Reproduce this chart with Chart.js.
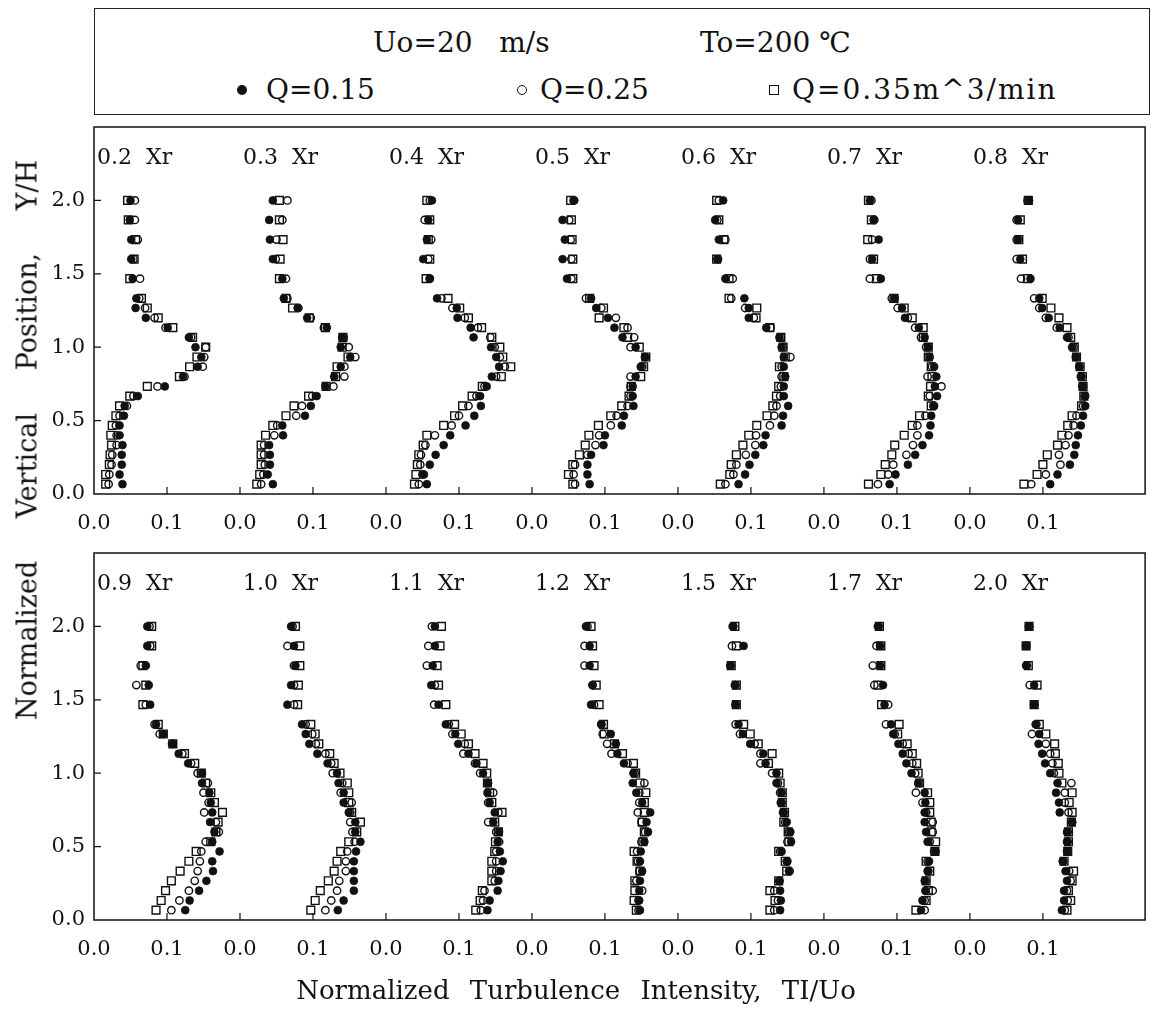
<!DOCTYPE html>
<html>
<head>
<meta charset="utf-8">
<script src="https://cdn.jsdelivr.net/npm/chart.js@4.4.1/dist/chart.umd.min.js"></script>
<style>
  body { margin: 0; width: 1152px; height: 1009px; position: relative; overflow: hidden;
         background: #fff; color: #111; font-family: "DejaVu Serif", serif; }
  canvas { position: absolute; left: 0; }
  #legendBox { position: absolute; left: 94px; top: 8px; width: 1056px; height: 107px;
               border: 1.5px solid #222; box-sizing: border-box; }
  .lg { position: absolute; font-size: 28px; line-height: 1; white-space: pre; transform: translateY(-50%); }
  .mk { position: absolute; box-sizing: border-box; transform: translate(-50%, -50%); }
  .dot { width: 10px; height: 10px; border-radius: 50%; background: #111; }
  .ring { width: 10px; height: 10px; border-radius: 50%; border: 1.3px solid #111; }
  .box { width: 10px; height: 10px; border: 1.3px solid #111; }
  #yTitle { position: absolute; left: 27px; top: 440px; font-size: 27px; white-space: nowrap; word-spacing: 34px;
            transform: translate(-50%, -50%) rotate(-90deg); }
  #xTitle { position: absolute; left: 576px; top: 990px; font-size: 26px; white-space: nowrap; word-spacing: 12px;
            transform: translate(-50%, -50%); }
</style>
</head>
<body>
<div id="legendBox"></div>
<div class="lg" style="left:373px;top:43px">Uo=20   m/s</div>
<div class="lg" style="left:700px;top:43px">To=200 ℃</div>
<div class="mk dot" style="left:242px;top:90px"></div>
<div class="lg" style="left:266px;top:90px">Q=0.15</div>
<div class="mk ring" style="left:522px;top:90px"></div>
<div class="lg" style="left:540px;top:90px">Q=0.25</div>
<div class="mk box" style="left:774px;top:90px"></div>
<div class="lg" style="left:792px;top:90px;letter-spacing:2px">Q=0.35m^3/min</div>

<canvas id="chartTop" width="1152" height="430" style="top:120px"></canvas>
<canvas id="chartBottom" width="1152" height="430" style="top:546px"></canvas>

<div id="yTitle">Normalized Vertical Position, Y/H</div>
<div id="xTitle">Normalized Turbulence Intensity, TI/Uo</div>

<script>
// Y/H measurement heights, listed top to bottom
const LEVELS = [2.0, 1.867, 1.733, 1.6, 1.467, 1.333, 1.267, 1.2, 1.133, 1.067, 1.0, 0.933, 0.867,
                0.8, 0.733, 0.667, 0.6, 0.533, 0.467, 0.4, 0.333, 0.267, 0.2, 0.133, 0.067];

const STATIONS_TOP = ["0.2", "0.3", "0.4", "0.5", "0.6", "0.7", "0.8"];
const STATIONS_BOTTOM = ["0.9", "1.0", "1.1", "1.2", "1.5", "1.7", "2.0"];

// each profile is shifted right by this much on the shared TI axis
const STATION_STEP = 0.2;
const X_TICKS = [0, 0.1, 0.2, 0.3, 0.4, 0.5, 0.6, 0.7, 0.8, 0.9, 1.0, 1.1, 1.2, 1.3];
const X_TICK_LABELS = ["0.0", "0.1", "0.0", "0.1", "0.0", "0.1", "0.0", "0.1", "0.0", "0.1", "0.0", "0.1", "0.0", "0.1"];
const Y_TICKS = [0, 0.5, 1.0, 1.5, 2.0];

// TI/Uo, Q = 0.15 m^3/min (filled circles)
const Q15_TOP = [
  [0.050, 0.049, 0.051, 0.051, 0.053, 0.058, 0.057, 0.071, 0.101, 0.130, 0.139, 0.147, 0.142, 0.122, 0.097, 0.060, 0.042, 0.041, 0.035, 0.035, 0.039, 0.038, 0.038, 0.035, 0.039],
  [0.045, 0.040, 0.041, 0.045, 0.058, 0.060, 0.079, 0.092, 0.119, 0.140, 0.138, 0.151, 0.138, 0.129, 0.117, 0.105, 0.097, 0.089, 0.058, 0.059, 0.040, 0.041, 0.041, 0.038, 0.045],
  [0.063, 0.058, 0.056, 0.051, 0.060, 0.070, 0.097, 0.098, 0.116, 0.120, 0.144, 0.151, 0.155, 0.145, 0.138, 0.129, 0.130, 0.121, 0.109, 0.088, 0.079, 0.068, 0.060, 0.052, 0.056],
  [0.058, 0.042, 0.045, 0.042, 0.048, 0.081, 0.088, 0.104, 0.113, 0.124, 0.142, 0.155, 0.149, 0.142, 0.138, 0.138, 0.139, 0.126, 0.123, 0.100, 0.098, 0.081, 0.076, 0.076, 0.079],
  [0.062, 0.051, 0.056, 0.055, 0.065, 0.091, 0.097, 0.097, 0.121, 0.139, 0.142, 0.145, 0.145, 0.147, 0.145, 0.145, 0.151, 0.144, 0.142, 0.120, 0.117, 0.106, 0.098, 0.092, 0.083],
  [0.063, 0.068, 0.075, 0.066, 0.078, 0.097, 0.107, 0.111, 0.130, 0.138, 0.143, 0.145, 0.151, 0.154, 0.152, 0.155, 0.151, 0.147, 0.146, 0.144, 0.135, 0.125, 0.115, 0.098, 0.090],
  [0.081, 0.066, 0.066, 0.069, 0.083, 0.095, 0.099, 0.108, 0.123, 0.133, 0.140, 0.145, 0.150, 0.153, 0.155, 0.158, 0.158, 0.155, 0.152, 0.148, 0.145, 0.143, 0.137, 0.120, 0.110]
];
const Q15_BOTTOM = [
  [0.073, 0.073, 0.071, 0.075, 0.077, 0.085, 0.095, 0.108, 0.116, 0.129, 0.148, 0.148, 0.158, 0.160, 0.162, 0.159, 0.165, 0.162, 0.172, 0.162, 0.163, 0.154, 0.144, 0.131, 0.125],
  [0.070, 0.074, 0.076, 0.070, 0.065, 0.085, 0.090, 0.095, 0.106, 0.120, 0.133, 0.135, 0.142, 0.142, 0.149, 0.158, 0.158, 0.165, 0.159, 0.156, 0.156, 0.156, 0.156, 0.142, 0.134],
  [0.067, 0.067, 0.064, 0.062, 0.072, 0.082, 0.095, 0.099, 0.113, 0.124, 0.133, 0.140, 0.139, 0.142, 0.149, 0.147, 0.155, 0.153, 0.156, 0.160, 0.157, 0.154, 0.153, 0.142, 0.139],
  [0.074, 0.079, 0.079, 0.083, 0.081, 0.095, 0.108, 0.115, 0.117, 0.126, 0.139, 0.138, 0.143, 0.151, 0.162, 0.157, 0.159, 0.154, 0.149, 0.148, 0.151, 0.148, 0.147, 0.147, 0.148],
  [0.076, 0.090, 0.072, 0.079, 0.079, 0.083, 0.089, 0.099, 0.117, 0.120, 0.135, 0.135, 0.142, 0.142, 0.145, 0.149, 0.154, 0.155, 0.142, 0.150, 0.152, 0.139, 0.140, 0.141, 0.140],
  [0.075, 0.077, 0.077, 0.081, 0.083, 0.092, 0.095, 0.102, 0.108, 0.113, 0.120, 0.129, 0.138, 0.139, 0.138, 0.138, 0.140, 0.142, 0.153, 0.144, 0.142, 0.138, 0.139, 0.135, 0.133],
  [0.081, 0.077, 0.077, 0.088, 0.088, 0.090, 0.095, 0.094, 0.099, 0.103, 0.110, 0.120, 0.118, 0.122, 0.123, 0.140, 0.133, 0.133, 0.133, 0.127, 0.131, 0.133, 0.129, 0.129, 0.126]
];

// TI/Uo, Q = 0.25 m^3/min (open circles)
const Q25_TOP = [
  [0.056, 0.056, 0.060, 0.054, 0.063, 0.062, 0.070, 0.083, 0.098, 0.133, 0.153, 0.151, 0.149, 0.124, 0.087, 0.054, 0.045, 0.035, 0.030, 0.031, 0.031, 0.025, 0.024, 0.021, 0.020],
  [0.065, 0.058, 0.050, 0.049, 0.063, 0.065, 0.080, 0.097, 0.115, 0.142, 0.149, 0.158, 0.143, 0.143, 0.128, 0.099, 0.085, 0.077, 0.051, 0.047, 0.033, 0.033, 0.034, 0.032, 0.029],
  [0.060, 0.053, 0.062, 0.058, 0.060, 0.076, 0.091, 0.108, 0.126, 0.143, 0.149, 0.156, 0.163, 0.151, 0.135, 0.124, 0.113, 0.100, 0.090, 0.067, 0.054, 0.048, 0.047, 0.050, 0.045],
  [0.057, 0.051, 0.053, 0.054, 0.054, 0.074, 0.095, 0.115, 0.131, 0.140, 0.135, 0.155, 0.151, 0.135, 0.135, 0.135, 0.131, 0.116, 0.108, 0.092, 0.087, 0.076, 0.059, 0.057, 0.059],
  [0.056, 0.054, 0.065, 0.054, 0.075, 0.073, 0.092, 0.104, 0.127, 0.141, 0.144, 0.154, 0.142, 0.142, 0.141, 0.140, 0.135, 0.132, 0.126, 0.107, 0.106, 0.093, 0.080, 0.076, 0.065],
  [0.065, 0.069, 0.066, 0.063, 0.063, 0.093, 0.101, 0.115, 0.125, 0.133, 0.140, 0.143, 0.148, 0.142, 0.161, 0.145, 0.150, 0.139, 0.128, 0.128, 0.122, 0.113, 0.095, 0.088, 0.074],
  [0.079, 0.064, 0.064, 0.064, 0.070, 0.088, 0.095, 0.104, 0.119, 0.135, 0.142, 0.146, 0.150, 0.152, 0.154, 0.157, 0.155, 0.146, 0.142, 0.135, 0.131, 0.122, 0.124, 0.104, 0.084]
];
const Q25_BOTTOM = [
  [0.076, 0.077, 0.064, 0.058, 0.071, 0.083, 0.090, 0.107, 0.121, 0.133, 0.142, 0.156, 0.150, 0.157, 0.151, 0.167, 0.171, 0.153, 0.147, 0.145, 0.142, 0.138, 0.130, 0.117, 0.106],
  [0.072, 0.065, 0.074, 0.074, 0.074, 0.090, 0.099, 0.104, 0.117, 0.125, 0.127, 0.140, 0.138, 0.153, 0.151, 0.151, 0.154, 0.157, 0.147, 0.145, 0.145, 0.136, 0.133, 0.125, 0.117],
  [0.063, 0.058, 0.056, 0.067, 0.066, 0.086, 0.091, 0.108, 0.106, 0.122, 0.129, 0.139, 0.147, 0.140, 0.154, 0.140, 0.151, 0.155, 0.151, 0.151, 0.151, 0.149, 0.135, 0.133, 0.130],
  [0.076, 0.072, 0.072, 0.083, 0.085, 0.095, 0.097, 0.103, 0.109, 0.131, 0.141, 0.154, 0.147, 0.147, 0.145, 0.150, 0.155, 0.150, 0.144, 0.145, 0.147, 0.143, 0.151, 0.146, 0.146],
  [0.075, 0.074, 0.072, 0.078, 0.079, 0.079, 0.085, 0.105, 0.113, 0.113, 0.129, 0.137, 0.140, 0.141, 0.144, 0.147, 0.152, 0.150, 0.140, 0.149, 0.153, 0.139, 0.132, 0.137, 0.132],
  [0.074, 0.072, 0.067, 0.069, 0.088, 0.085, 0.097, 0.108, 0.116, 0.121, 0.125, 0.131, 0.126, 0.135, 0.140, 0.149, 0.149, 0.145, 0.151, 0.142, 0.143, 0.139, 0.149, 0.138, 0.138],
  [0.081, 0.077, 0.078, 0.082, 0.088, 0.091, 0.085, 0.104, 0.110, 0.113, 0.115, 0.139, 0.130, 0.130, 0.135, 0.140, 0.134, 0.134, 0.134, 0.128, 0.136, 0.138, 0.133, 0.134, 0.130]
];

// TI/Uo, Q = 0.35 m^3/min (open squares)
const Q35_TOP = [
  [0.046, 0.047, 0.057, 0.055, 0.049, 0.065, 0.073, 0.088, 0.108, 0.135, 0.153, 0.141, 0.131, 0.117, 0.073, 0.049, 0.035, 0.030, 0.025, 0.023, 0.024, 0.022, 0.021, 0.016, 0.016],
  [0.054, 0.054, 0.059, 0.055, 0.054, 0.063, 0.072, 0.095, 0.117, 0.141, 0.140, 0.148, 0.133, 0.131, 0.118, 0.094, 0.074, 0.063, 0.045, 0.035, 0.029, 0.029, 0.029, 0.027, 0.023],
  [0.056, 0.060, 0.058, 0.060, 0.055, 0.085, 0.101, 0.113, 0.131, 0.145, 0.156, 0.160, 0.171, 0.158, 0.132, 0.118, 0.105, 0.094, 0.079, 0.056, 0.051, 0.045, 0.043, 0.041, 0.039],
  [0.053, 0.054, 0.055, 0.056, 0.056, 0.079, 0.098, 0.092, 0.126, 0.131, 0.147, 0.156, 0.153, 0.149, 0.136, 0.133, 0.123, 0.108, 0.091, 0.078, 0.073, 0.065, 0.056, 0.050, 0.056],
  [0.053, 0.056, 0.063, 0.053, 0.070, 0.070, 0.108, 0.107, 0.126, 0.141, 0.144, 0.147, 0.139, 0.145, 0.138, 0.135, 0.130, 0.122, 0.108, 0.097, 0.089, 0.080, 0.073, 0.071, 0.058],
  [0.061, 0.065, 0.060, 0.068, 0.072, 0.096, 0.110, 0.121, 0.136, 0.136, 0.143, 0.143, 0.147, 0.148, 0.146, 0.143, 0.147, 0.131, 0.121, 0.110, 0.097, 0.093, 0.084, 0.078, 0.061],
  [0.080, 0.069, 0.067, 0.072, 0.079, 0.099, 0.111, 0.122, 0.133, 0.138, 0.143, 0.146, 0.151, 0.154, 0.155, 0.156, 0.153, 0.140, 0.134, 0.126, 0.120, 0.106, 0.100, 0.092, 0.074]
];
const Q35_BOTTOM = [
  [0.079, 0.079, 0.067, 0.071, 0.067, 0.088, 0.095, 0.108, 0.124, 0.138, 0.147, 0.153, 0.160, 0.165, 0.176, 0.170, 0.167, 0.160, 0.140, 0.130, 0.118, 0.106, 0.098, 0.092, 0.085],
  [0.076, 0.082, 0.082, 0.080, 0.079, 0.097, 0.103, 0.108, 0.123, 0.129, 0.137, 0.147, 0.149, 0.149, 0.153, 0.165, 0.160, 0.149, 0.138, 0.133, 0.129, 0.121, 0.110, 0.103, 0.097],
  [0.076, 0.074, 0.070, 0.072, 0.082, 0.094, 0.103, 0.113, 0.122, 0.133, 0.138, 0.139, 0.142, 0.145, 0.159, 0.149, 0.154, 0.150, 0.149, 0.145, 0.145, 0.145, 0.132, 0.129, 0.123],
  [0.081, 0.083, 0.085, 0.088, 0.092, 0.098, 0.099, 0.113, 0.124, 0.139, 0.142, 0.148, 0.156, 0.154, 0.154, 0.151, 0.154, 0.152, 0.140, 0.144, 0.148, 0.141, 0.141, 0.140, 0.143],
  [0.078, 0.080, 0.073, 0.080, 0.080, 0.090, 0.099, 0.110, 0.129, 0.124, 0.138, 0.140, 0.143, 0.143, 0.146, 0.145, 0.151, 0.152, 0.138, 0.147, 0.149, 0.138, 0.126, 0.133, 0.126],
  [0.076, 0.078, 0.078, 0.074, 0.079, 0.103, 0.101, 0.114, 0.121, 0.127, 0.129, 0.131, 0.142, 0.145, 0.145, 0.147, 0.147, 0.153, 0.152, 0.140, 0.145, 0.140, 0.143, 0.140, 0.126],
  [0.081, 0.077, 0.080, 0.092, 0.088, 0.095, 0.104, 0.116, 0.117, 0.121, 0.122, 0.126, 0.140, 0.136, 0.140, 0.139, 0.135, 0.135, 0.134, 0.129, 0.142, 0.140, 0.135, 0.138, 0.133]
];

const INK = "#111";
const FONT = "'DejaVu Serif', serif";
const LABEL_Y = 2.29;   // height of the "x.x Xr" captions, in Y/H

Chart.defaults.font.family = FONT;
Chart.defaults.color = INK;

// marker look per flow rate; filled circles sit on top
const MARK_15 = { pointStyle: "circle", pointRadius: 3.9, backgroundColor: INK, borderColor: INK, borderWidth: 0.8, order: 0 };
const MARK_25 = { pointStyle: "circle", pointRadius: 3.7, backgroundColor: "rgba(255,255,255,0)", borderColor: INK, borderWidth: 1.4, order: 1 };
const MARK_35 = { pointStyle: "rect", pointRadius: 5.5, backgroundColor: "rgba(255,255,255,0)", borderColor: INK, borderWidth: 1.4, order: 2 };

function buildDatasets(q15, q25, q35) {
  const out = [];
  q15.forEach((_, s) => {
    const off = STATION_STEP * s;
    const pts = (vals) => vals.map((v, i) => ({ x: off + v, y: LEVELS[i] }));
    out.push({ data: pts(q15[s]), ...MARK_15 });
    out.push({ data: pts(q25[s]), ...MARK_25 });
    out.push({ data: pts(q35[s]), ...MARK_35 });
  });
  return out;
}

// panel frame, inward tick marks and station captions
const framePlugin = {
  id: "frame",
  afterDraw(chart, args, opts) {
    const { ctx, chartArea: a, scales: { x, y } } = chart;
    ctx.save();
    ctx.strokeStyle = INK;
    ctx.lineWidth = 1.5;
    ctx.strokeRect(a.left, a.top, a.right - a.left, a.bottom - a.top);
    ctx.lineWidth = 1.2;
    ctx.beginPath();
    X_TICKS.slice(1).forEach((v) => {
      const px = x.getPixelForValue(v);
      ctx.moveTo(px, a.bottom);
      ctx.lineTo(px, a.bottom - 7);
    });
    Y_TICKS.slice(1).forEach((v) => {
      const py = y.getPixelForValue(v);
      ctx.moveTo(a.left, py);
      ctx.lineTo(a.left + 7, py);
    });
    ctx.stroke();

    ctx.fillStyle = INK;
    ctx.font = "22px " + FONT;
    ctx.textAlign = "left";
    ctx.textBaseline = "middle";
    opts.stations.forEach((st, s) => {
      ctx.fillText(st + "  Xr", x.getPixelForValue(STATION_STEP * s) + 3, y.getPixelForValue(LABEL_Y));
    });
    ctx.restore();
  }
};

function makePanel(id, stations, q15, q25, q35) {
  return new Chart(document.getElementById(id), {
    type: "scatter",
    data: { datasets: buildDatasets(q15, q25, q35) },
    plugins: [framePlugin],
    options: {
      responsive: false,
      devicePixelRatio: 1,
      animation: false,
      layout: { padding: { top: 7, right: 2, bottom: 0, left: 0 } },
      plugins: {
        legend: { display: false },
        tooltip: { enabled: false },
        frame: { stations },
      },
      scales: {
        x: {
          type: "linear", min: 0, max: 1.44,
          afterBuildTicks: (s) => { s.ticks = X_TICKS.map((v) => ({ value: v })); },
          afterFit: (s) => { s.height = 56; s.paddingLeft = 0; s.paddingRight = 0; },
          grid: { display: false, drawTicks: false },
          border: { display: false },
          ticks: {
            autoSkip: false, maxRotation: 0, minRotation: 0, padding: 17,
            font: { size: 21 }, color: INK,
            callback: (v, i) => X_TICK_LABELS[i],
          },
        },
        y: {
          type: "linear", min: 0, max: 2.5,
          afterBuildTicks: (s) => { s.ticks = Y_TICKS.map((v) => ({ value: v })); },
          afterFit: (s) => { s.width = 94; s.paddingTop = 0; s.paddingBottom = 0; },
          grid: { display: false, drawTicks: false },
          border: { display: false },
          ticks: {
            padding: 9, font: { size: 21 }, color: INK,
            callback: (v) => v.toFixed(1),
          },
        },
      },
    },
  });
}

makePanel("chartTop", STATIONS_TOP, Q15_TOP, Q25_TOP, Q35_TOP);
makePanel("chartBottom", STATIONS_BOTTOM, Q15_BOTTOM, Q25_BOTTOM, Q35_BOTTOM);
</script>
</body>
</html>
